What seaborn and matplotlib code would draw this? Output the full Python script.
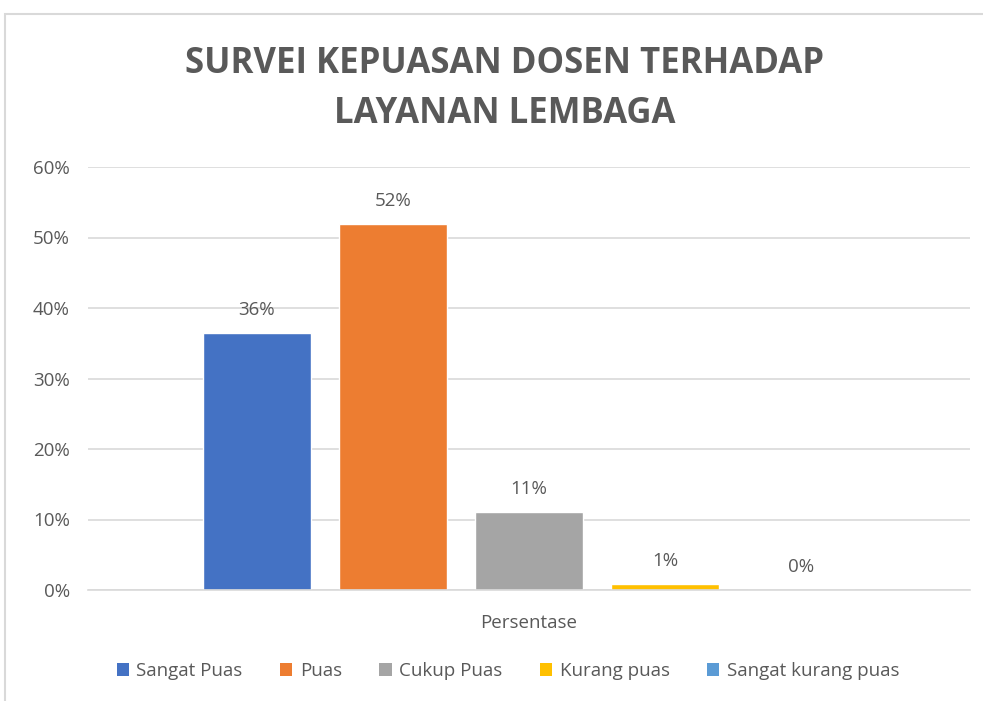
import pandas as pd
import matplotlib.pyplot as plt
import seaborn as sns
from matplotlib.patches import Rectangle, Patch
from matplotlib.ticker import PercentFormatter

# Data
categories = ["Sangat Puas", "Puas", "Cukup Puas", "Kurang puas", "Sangat kurang puas"]
values = [0.364, 0.519, 0.111, 0.009, 0.0]
labels = ["36%", "52%", "11%", "1%", "0%"]
colors = ["#4472C4", "#ED7D31", "#A5A5A5", "#FFC000", "#5B9BD5"]
group = "Persentase"

df = pd.DataFrame({"Kategori": categories, "Nilai": values, "Grup": group})

sns.set_theme(style="white")
plt.rcParams["font.family"] = ["Open Sans", "DejaVu Sans"]
text_col = "#595959"
grid_col = "#d9d9d9"

fig = plt.figure(figsize=(9.83, 7.01), dpi=100)
ax = fig.add_axes([88 / 983, 1 - 590 / 701, (970 - 88) / 983, (590 - 167) / 701])

sns.barplot(data=df, x="Grup", y="Nilai", hue="Kategori", palette=colors,
            width=0.771, gap=0.21, ax=ax, legend=False, saturation=1)

ax.set_ylim(0, 0.6)
ax.set_yticks([0, 0.1, 0.2, 0.3, 0.4, 0.5, 0.6])
ax.yaxis.set_major_formatter(PercentFormatter(1.0, decimals=0))
ax.grid(axis="y", color=grid_col, linewidth=1.2)
ax.set_axisbelow(True)
for s in ["top", "right", "left"]:
    ax.spines[s].set_visible(False)
ax.spines["bottom"].set_color(grid_col)
ax.spines["bottom"].set_linewidth(1.2)
ax.tick_params(axis="both", colors=text_col, labelsize=13.5, length=0)
ax.tick_params(axis="y", pad=13)
ax.tick_params(axis="x", pad=17)
ax.set_xlabel("")
ax.set_ylabel("")

# data labels
for bar_cont, lab in zip(ax.containers, labels):
    ax.bar_label(bar_cont, labels=[lab], padding=10, color=text_col, fontsize=13.5)

# title
fig.text(505 / 983, 1 - 89 / 701, "SURVEI KEPUASAN DOSEN TERHADAP\nLAYANAN LEMBAGA",
         ha="center", va="center", fontsize=25, fontweight="bold", color=text_col,
         linespacing=1.5)

# legend
handles = [Patch(facecolor=c, edgecolor="none") for c in colors]
fig.legend(handles, categories, loc="center", bbox_to_anchor=(508 / 983, 1 - 671 / 701),
           ncol=5, frameon=False, fontsize=13.5, handlelength=0.65, handleheight=0.65,
           handletextpad=0.4, columnspacing=2.0, labelcolor=text_col)

# chart frame
fig.patches.append(Rectangle((5 / 983, -0.01), 1.0, 1 - 14 / 701 + 0.01,
                             transform=fig.transFigure, fill=False,
                             edgecolor=grid_col, linewidth=1.5))

fig.savefig("out.png", dpi=100)
